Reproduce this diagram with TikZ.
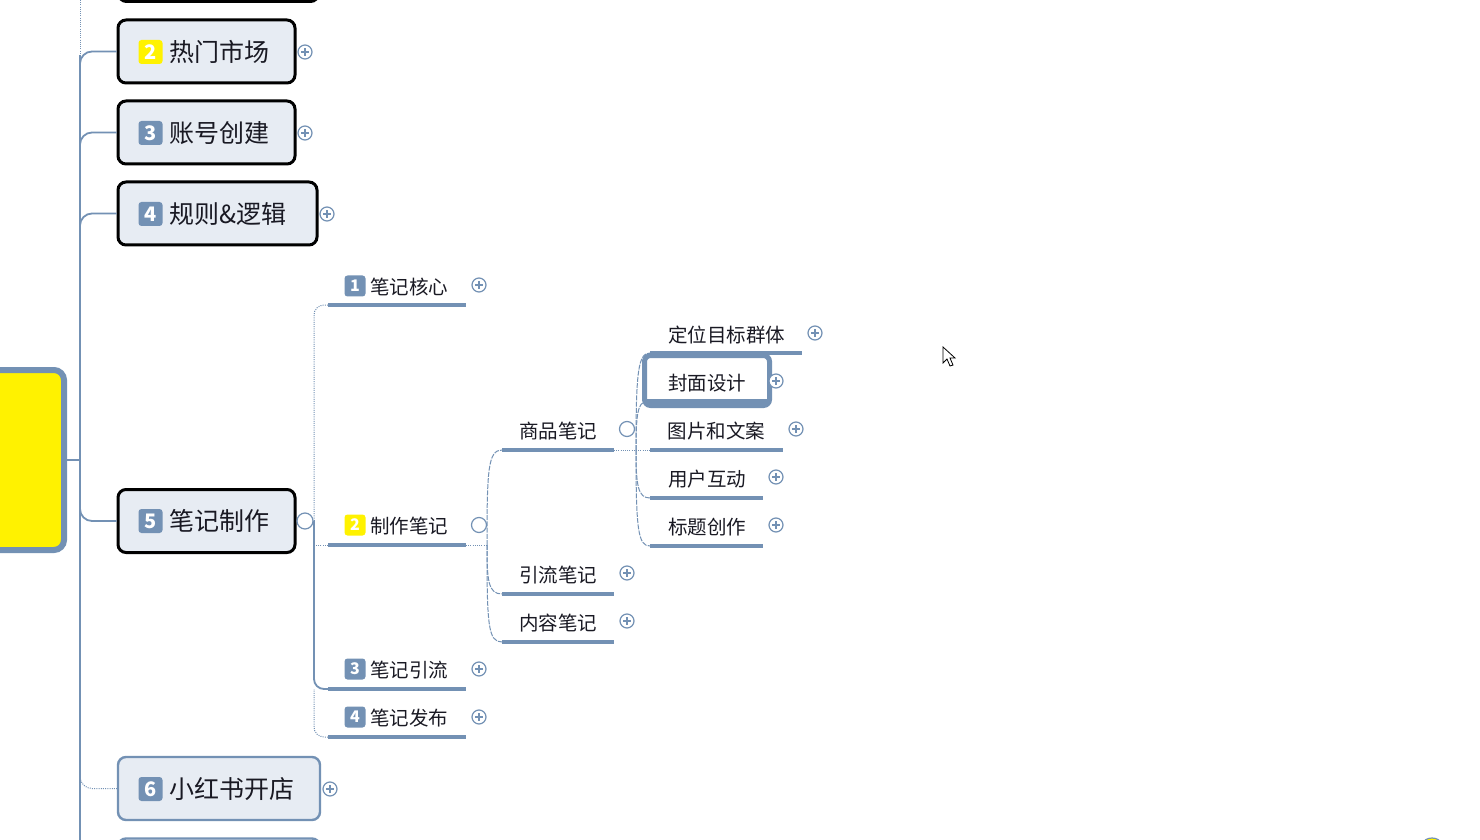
\documentclass[tikz,border=0pt]{standalone}
\usepackage{fontspec}
\setmainfont{Noto Sans CJK SC}
\definecolor{bg}{RGB}{115,145,180}
\definecolor{yel}{RGB}{255,242,0}
\definecolor{boxfill}{RGB}{231,236,243}
\definecolor{txt}{RGB}{25,25,35}
\tikzset{
 mainbox/.style={draw=black, line width=1.5pt, rounded corners=4pt, fill=boxfill, minimum height=31.5pt, inner sep=0},
 badge/.style={fill=bg, rounded corners=1.5pt, minimum size=12pt, inner sep=0, text=white, font=\fontsize{10}{10}\selectfont\bfseries},
 sbadge/.style={badge, minimum size=10.5pt, font=\fontsize{8}{8}\selectfont\bfseries},
 maintext/.style={anchor=west, inner sep=0, text=txt, font=\fontsize{12.5}{13}\selectfont},
 subtext/.style={inner sep=0, text=txt, font=\fontsize{9.75}{10}\selectfont},
 bar/.style={draw=bg, line width=2.2pt},
 plusc/.style={circle, draw=bg, line width=0.6pt, fill=white, minimum size=7pt, inner sep=0,
   path picture={\draw[bg, line width=0.6pt] ([xshift=-1.9pt]path picture bounding box.center) -- ([xshift=1.9pt]path picture bounding box.center) ([yshift=-1.9pt]path picture bounding box.center) -- ([yshift=1.9pt]path picture bounding box.center);}},
 collc/.style={circle, draw=bg, line width=0.6pt, minimum size=7.5pt, inner sep=0, fill=white},
 conn/.style={draw=bg, line width=0.9pt},
 dconn/.style={draw=bg, line width=0.5pt, dash pattern=on 2.5pt off 0.6pt},
 dotconn/.style={draw=bg, line width=0.5pt, dash pattern=on 0.5pt off 0.6pt},
}
\begin{document}
\begin{tikzpicture}[x=0.5pt,y=-0.5pt]
\useasboundingbox (0,0) rectangle (1480,840);
\clip (0,0) rectangle (1480,840);
\fill[white] (0,0) rectangle (1480,840);

% trunk
\coordinate (ttop) at (80,0);
\coordinate (tdot) at (80,55);
\coordinate (tr) at (80,460);
\coordinate (tbot) at (80,840);
\draw[dotconn] (ttop) -- (tdot);
\draw[conn] (tdot) -- (tbot);

% root
\node[draw=bg, line width=3pt, rounded corners=5pt, fill=yel, minimum width=47pt, minimum height=90pt, inner sep=0] (root) at (17,460) {};
\draw[conn] (root.east) -- (tr);

% main boxes
\node[mainbox, minimum width=100pt] (n1) at (218.5,-30) {};
\node[mainbox, minimum width=88.5pt] (n2) at (206.5,51.5) {};
\node[mainbox, minimum width=88.5pt] (n3) at (206.5,132.5) {};
\node[mainbox, minimum width=99.5pt] (n4) at (217.5,213.5) {};
\node[mainbox, minimum width=88.5pt] (n5) at (206.5,521) {};
\node[mainbox, draw=bg, line width=1.2pt, minimum width=101pt] (n6) at (219,788.5) {};
\node[mainbox, draw=bg, line width=1.2pt, minimum width=101pt] (n7) at (219,870) {};

\node[badge, fill=yel] (b2) at (150.5,52) {2};
\node[maintext] (x2) at (169,52) {热门市场};
\node[badge] (b3) at (150.5,133) {3};
\node[maintext] (x3) at (169,133) {账号创建};
\node[badge] (b4) at (150.5,214) {4};
\node[maintext] (x4) at (169,214) {规则\&逻辑};
\node[badge] (b5) at (150.5,521) {5};
\node[maintext] (x5) at (169,521) {笔记制作};
\node[badge] (b6) at (150.5,789) {6};
\node[maintext] (x6) at (169,789) {小红书开店};

\node[plusc] (p2) at (305,52) {};
\node[plusc] (p3) at (305,133) {};
\node[plusc] (p4) at (327,214) {};
\node[collc, minimum size=8pt] (c5) at (305,521) {};
\node[plusc] (p6) at (330,789) {};

% main connectors
\coordinate (k2) at (80,70);
\coordinate (k3) at (80,151);
\coordinate (k4) at (80,232);
\coordinate (k5) at (80,503);
\coordinate (k6) at (80,771);
\draw[conn, rounded corners=6pt] (k2) |- (n2.west);
\draw[conn, rounded corners=6pt] (k3) |- (n3.west);
\draw[conn, rounded corners=6pt] (k4) |- (n4.west);
\draw[conn, rounded corners=6pt] (k5) |- (n5.west);
\draw[dotconn, rounded corners=6pt] (k6) |- (n6.west);

% level 2
\coordinate (v2mid) at (314,521);
\coordinate (v2low) at (314,689);
\coordinate (u1a) at (328,305); \coordinate (u1b) at (466,305);
\coordinate (u2a) at (328,545); \coordinate (u2b) at (466,545);
\coordinate (u3a) at (328,689); \coordinate (u3b) at (466,689);
\coordinate (u4a) at (328,737); \coordinate (u4b) at (466,737);
\coordinate (v2j) at (314,545);
\draw[conn] (c5.east) -- (v2mid);
\draw[dotconn, rounded corners=5pt] (u1a) -| (v2mid);
\draw[conn, rounded corners=5pt] (u3a) -| (v2mid);
\draw[dotconn] (u2a) -- (v2j);
\draw[dotconn, rounded corners=5pt] (u4a) -| (v2low);
\draw[bar] (u1a) -- (u1b);
\draw[bar] (u2a) -- (u2b);
\draw[bar] (u3a) -- (u3b);
\draw[bar] (u4a) -- (u4b);

\node[sbadge] (s1) at (355,286) {1};
\node[subtext, anchor=west] (y1) at (370,287) {笔记核心};
\node[sbadge, fill=yel] (s2) at (355,525) {2};
\node[subtext, anchor=west] (y2) at (370,526) {制作笔记};
\node[sbadge] (s3) at (355,669) {3};
\node[subtext, anchor=west] (y3) at (370,670) {笔记引流};
\node[sbadge] (s4) at (355,717) {4};
\node[subtext, anchor=west] (y4) at (370,718) {笔记发布};
\node[plusc] (q1) at (479,285) {};
\node[collc] (c2) at (479,525) {};
\node[plusc] (q3) at (479,669) {};
\node[plusc] (q4) at (479,717) {};

% level 3
\coordinate (j3) at (487,545);
\coordinate (u5a) at (502,450); \coordinate (u5b) at (614,450);
\coordinate (u6a) at (502,594); \coordinate (u6b) at (614,594);
\coordinate (u7a) at (502,642); \coordinate (u7b) at (614,642);
\draw[dotconn] (u2b) -- (j3);
\draw[dconn] (j3) .. controls (487,470) and (488,450) .. (u5a);
\draw[dconn] (j3) .. controls (487,580) and (488,594) .. (u6a);
\draw[dconn] (j3) .. controls (487,625) and (488,642) .. (u7a);
\draw[bar] (u5a) -- (u5b);
\draw[bar] (u6a) -- (u6b);
\draw[bar] (u7a) -- (u7b);
\node[subtext] (y5) at (558,431) {商品笔记};
\node[subtext] (y6) at (558,575) {引流笔记};
\node[subtext] (y7) at (558,623) {内容笔记};
\node[collc] (c7) at (627,429) {};
\node[plusc] (q6) at (627,573) {};
\node[plusc] (q7) at (627,621) {};

% level 4
\coordinate (j4) at (636,450);
\coordinate (u8a) at (650,353); \coordinate (u8b) at (802,353);
\coordinate (u9a) at (646,402); \coordinate (u9b) at (768,402);
\coordinate (u10a) at (650,450); \coordinate (u10b) at (783,450);
\coordinate (u11a) at (650,498); \coordinate (u11b) at (763,498);
\coordinate (u12a) at (650,546); \coordinate (u12b) at (763,546);
\draw[dotconn] (u5b) -- (u10a);
\draw[dconn] (j4) .. controls (636,372) and (638,353) .. (u8a);
\draw[dconn] (j4) .. controls (636,414) and (638,402) .. (u9a);
\draw[dconn] (j4) .. controls (636,486) and (638,498) .. (u11a);
\draw[dconn] (j4) .. controls (636,530) and (638,546) .. (u12a);
\draw[bar] (u8a) -- (u8b);
\draw[bar] (u10a) -- (u10b);
\draw[bar] (u11a) -- (u11b);
\draw[bar] (u12a) -- (u12b);
\node[draw=bg, line width=2.5pt, rounded corners=3pt, minimum width=62.5pt, minimum height=25pt, inner sep=0] (sel) at (707,380.5) {};
\draw[bar, line width=2.6pt] (u9a) -- (u9b);
\node[subtext] (y8) at (726.5,335) {定位目标群体};
\node[subtext] (y9) at (707,383) {封面设计};
\node[subtext] (y10) at (716.5,431) {图片和文案};
\node[subtext] (y11) at (707,479) {用户互动};
\node[subtext] (y12) at (707,527) {标题创作};
\node[plusc] (q8) at (815,333) {};
\node[plusc] (q9) at (776,381) {};
\node[plusc] (q10) at (796,429) {};
\node[plusc] (q11) at (776,477) {};
\node[plusc] (q12) at (776,525) {};

% cursor
\draw[black, fill=white, line width=0.4pt, line join=miter]
  (943,347) -- (943,363) -- (947,359) -- (950,366) -- (953,365) -- (950,358) -- (955,358) -- cycle;

% partial icon bottom right
\draw[bg, fill=yel, line width=0.6pt] (1432,844) ellipse [x radius=9, y radius=6];
\end{tikzpicture}
\end{document}
